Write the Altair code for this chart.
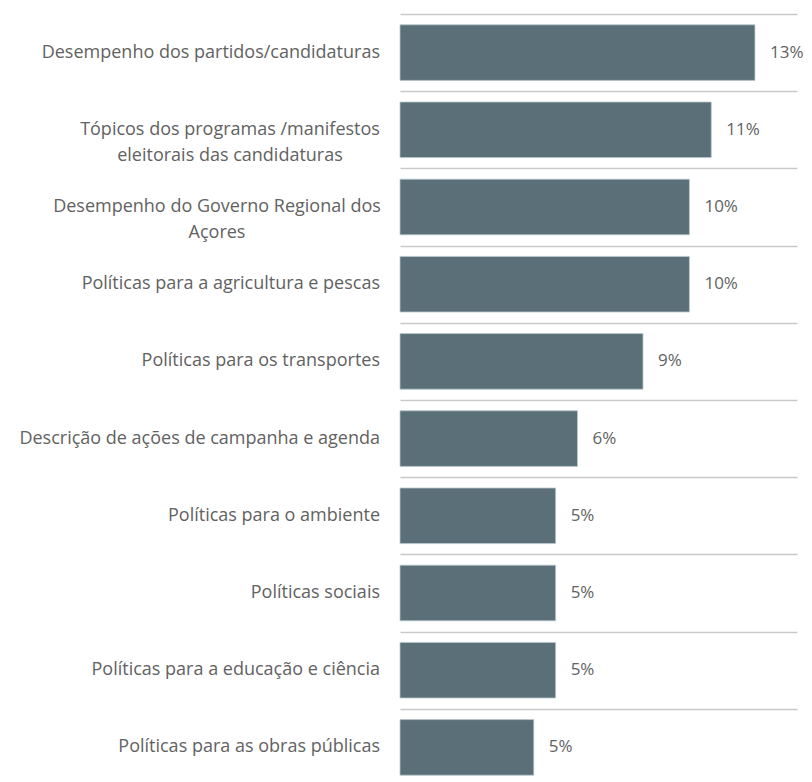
import altair as alt
import pandas as pd

categories = [
    "Desempenho dos partidos/candidaturas",
    "Tópicos dos programas /manifestos\neleitorais das candidaturas",
    "Desempenho do Governo Regional dos\nAçores",
    "Políticas para a agricultura e pescas",
    "Políticas para os transportes",
    "Descrição de ações de campanha e agenda",
    "Políticas para o ambiente",
    "Políticas sociais",
    "Políticas para a educação e ciência",
    "Políticas para as obras públicas",
]
values = [13.0, 11.4, 10.6, 10.6, 8.9, 6.5, 5.7, 5.7, 5.7, 4.9]
value_labels = ["13%", "11%", "10%", "10%", "9%", "6%", "5%", "5%", "5%", "5%"]

df = pd.DataFrame({"cat": categories, "val": values, "lab": value_labels})

FONT = "Open Sans"
TXT = "#626262"

y_enc = alt.Y(
    "cat:N",
    sort=categories,
    scale=alt.Scale(paddingInner=0, paddingOuter=0),
    axis=alt.Axis(
        title=None,
        domain=False,
        ticks=False,
        labels=False,
        grid=True,
        gridColor="#c9c9c9",
        gridWidth=1.5,
        tickBand="extent",
    ),
)

x_enc = alt.X(
    "val:Q",
    scale=alt.Scale(domain=[0, 14.54], nice=False),
    axis=None,
)

base = alt.Chart(df).encode(y=y_enc)

bars = base.mark_bar(
    color="#5a6f78", stroke="#b9c6cc", strokeWidth=0.8,
    height=alt.RelativeBandSize(0.72),
).encode(x=x_enc)

values_txt = base.mark_text(
    align="left", baseline="middle", dx=15, font=FONT, fontSize=17, color=TXT
).encode(x=x_enc, text="lab:N")

cat_txt = base.mark_text(
    baseline="middle",
    font=FONT,
    fontSize=18,
    color=TXT,
    lineBreak="\n",
    lineHeight=26,
    align=alt.expr("indexof(datum.cat, '\\n') >= 0 ? 'center' : 'right'"),
    dx=alt.expr(
        "indexof(datum.cat, 'Tópicos') == 0 ? -150 : "
        "(indexof(datum.cat, 'Desempenho do Governo') == 0 ? -163 : 0)"
    ),
).encode(x=alt.value(-20), text="cat:N")

chart = (
    alt.layer(bars, values_txt, cat_txt)
    .properties(
        width=397,
        height=772,
        autosize=alt.AutoSizeParams(type="none"),
        padding={"left": 392, "top": 6, "right": 7, "bottom": 0},
    )
    .configure(background="white")
    .configure_view(strokeWidth=0, stroke="transparent")
    .configure_axis(domain=False)
)

chart.save("out.html", embed_options={"renderer": "svg", "actions": False})
